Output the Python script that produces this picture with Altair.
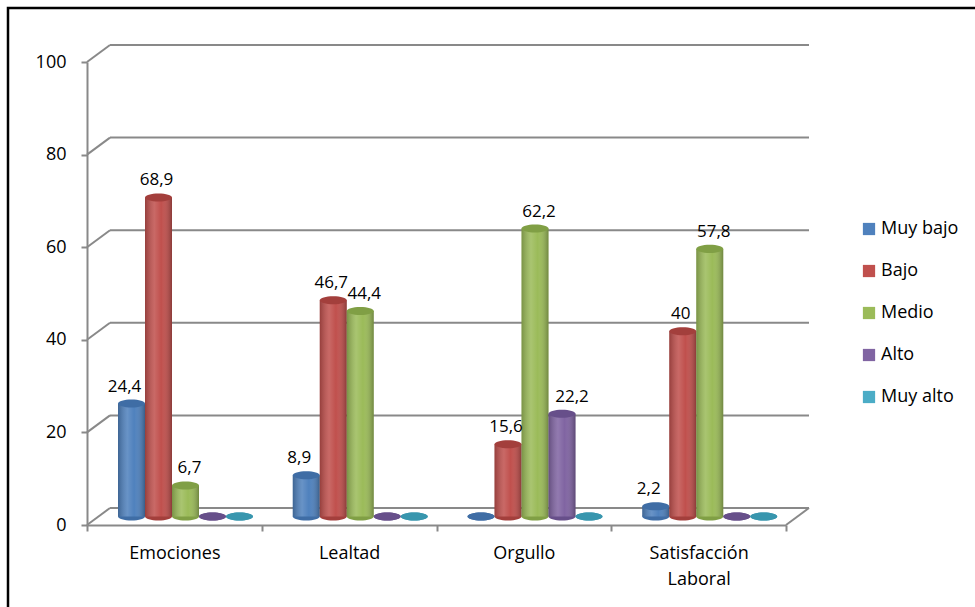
import altair as alt
import pandas as pd

# --- data -------------------------------------------------------------
categories = ["Emociones", "Lealtad", "Orgullo", "Satisfacción Laboral"]
series = ["Muy bajo", "Bajo", "Medio", "Alto", "Muy alto"]
muy_bajo = [24.4, 8.9, 0, 2.2]
bajo = [68.9, 46.7, 15.6, 40]
medio = [6.7, 44.4, 62.2, 57.8]
alto = [0, 0, 22.2, 0]
muy_alto = [0, 0, 0, 0]
y_ticks = [0, 20, 40, 60, 80, 100]

body_colors = ["#4F81BD", "#C0504D", "#9BBB59", "#8064A2", "#4BACC6"]
cap_colors = ["#3F6DA5", "#A33F3C", "#809F45", "#674F8A", "#3896AE"]

values_by_series = [muy_bajo, bajo, medio, alto, muy_alto]
rows = []
for s, vals, cap in zip(series, values_by_series, cap_colors):
    for c, v in zip(categories, vals):
        rows.append({"categoria": c, "nivel": s, "valor": v, "cap": cap})
df = pd.DataFrame(rows)
grid_df = pd.DataFrame({"v": y_ticks})

# --- layout constants (pixels) -------------------------------------------
W, H = 699, 463           # front plane of the plot
DX, DY = 23, -17          # depth of the 3-D box
MX, MY = DX / 2, DY / 2   # bars stand in the middle of the depth
FONT = "Open Sans"
GRAY = "#898989"
# small horizontal nudges of the value labels, per series, so that
# neighbouring labels do not collide
LABEL_DX = {"Muy bajo": -7, "Bajo": -2, "Medio": 4, "Alto": 10, "Muy alto": 0}

x_enc = alt.X(
    "categoria:N",
    sort=categories,
    scale=alt.Scale(domain=categories, paddingInner=0, paddingOuter=0),
    axis=alt.Axis(
        title=None, labelAngle=0, tickBand="extent", tickSize=6, grid=False,
        domainColor=GRAY, domainWidth=2, tickColor=GRAY, tickWidth=2,
        labelFont=FONT, labelFontSize=18, labelColor="black",
        labelPadding=13, labelLineHeight=26,
        labelExpr="split(datum.label, ' ')",
    ),
)
xoff_enc = alt.XOffset(
    "nivel:N",
    sort=series,
    scale=alt.Scale(domain=series, range=[31, 166], paddingInner=0, paddingOuter=0),
)
y_scale = alt.Scale(domain=[0, 100], nice=False, zero=True)
y_axis = alt.Axis(
    title=None, values=y_ticks, grid=False, tickSize=6,
    domainColor=GRAY, domainWidth=2, tickColor=GRAY, tickWidth=2,
    labelFont=FONT, labelFontSize=18, labelColor="black", labelPadding=15,
)
y_val = alt.Y("valor:Q", scale=y_scale, axis=y_axis)
y_grid = alt.Y("v:Q", scale=y_scale, axis=y_axis)

# outer frame
frame = alt.Chart(alt.Data(values=[{}])).mark_rect(
    filled=False, stroke="black", strokeWidth=2.5
).encode(
    x=alt.value(-79), x2=alt.value(W + 200),
    y=alt.value(-54), y2=alt.value(H + 120),
)

# back wall gridlines
back_grid = alt.Chart(grid_df).mark_rule(
    color=GRAY, strokeWidth=2, yOffset=DY, y2Offset=DY
).encode(
    x=alt.value(DX), x2=alt.value(W + DX), y=y_grid, y2="v:Q",
)

# side wall connectors from the axis ticks to the back wall
side_grid = alt.Chart(grid_df).mark_rule(
    color=GRAY, strokeWidth=2, y2Offset=DY
).encode(
    x=alt.value(0), x2=alt.value(DX), y=y_grid, y2="v:Q",
)

# right edge of the floor
floor_edge = alt.Chart(grid_df[grid_df["v"] == 0]).mark_rule(
    color=GRAY, strokeWidth=2, y2Offset=DY
).encode(
    x=alt.value(W), x2=alt.value(W + DX), y=y_grid, y2="v:Q",
)

ellipse = "M-1,0A1,0.3,0,1,0,1,0A1,0.3,0,1,0,-1,0Z"

# cylinder bottoms
bottoms = alt.Chart(df).mark_point(
    shape=ellipse, filled=True, size=729, opacity=1, strokeWidth=0, yOffset=MY
).encode(
    x=x_enc, xOffset=xoff_enc,
    y=alt.Y("base:Q", scale=y_scale, axis=y_axis),
    fill=alt.Fill("cap:N", scale=None, legend=None),
).transform_calculate(base="0")

# cylinder bodies
bodies = alt.Chart(df).mark_bar(yOffset=MY, y2Offset=MY).encode(
    x=x_enc, xOffset=xoff_enc, y=y_val,
    color=alt.Color(
        "nivel:N", sort=series,
        scale=alt.Scale(domain=series, range=body_colors),
        legend=alt.Legend(
            title=None, orient="none", legendX=773, legendY=158,
            symbolType="square", symbolSize=150, symbolStrokeWidth=0,
            labelFont=FONT, labelFontSize=18, labelColor="black",
            labelOffset=3, rowPadding=24,
        ),
    ),
)

# round shading across each cylinder
shade = alt.Gradient(
    gradient="linear", x1=0, x2=1, y1=0, y2=0,
    stops=[
        alt.GradientStop(offset=0, color="rgba(0,0,0,0.22)"),
        alt.GradientStop(offset=0.35, color="rgba(255,255,255,0.14)"),
        alt.GradientStop(offset=0.6, color="rgba(255,255,255,0.0)"),
        alt.GradientStop(offset=1, color="rgba(0,0,0,0.28)"),
    ],
)
shading = alt.Chart(df).mark_bar(yOffset=MY, y2Offset=MY, fill=shade).encode(
    x=x_enc, xOffset=xoff_enc, y=y_val,
)

# cylinder tops
tops = alt.Chart(df).mark_point(
    shape=ellipse, filled=True, size=729, opacity=1, strokeWidth=0, yOffset=MY
).encode(
    x=x_enc, xOffset=xoff_enc, y=y_val,
    fill=alt.Fill("cap:N", scale=None, legend=None),
)

# value labels (one layer per series, each with its own nudge)
label_layers = []
for s in series:
    label_layers.append(
        alt.Chart(df).transform_filter(
            alt.datum.nivel == s
        ).transform_filter(
            "datum.valor > 0"
        ).transform_calculate(
            etiqueta="replace(format(datum.valor, '.1~f'), '.', ',')"
        ).mark_text(
            font=FONT, fontSize=17, color="black", baseline="middle",
            yOffset=MY - 17, dx=LABEL_DX[s],
        ).encode(
            x=x_enc, xOffset=xoff_enc, y=y_val, text="etiqueta:N",
        )
    )

chart = alt.layer(
    frame, back_grid, side_grid, floor_edge, bottoms, bodies, shading, tops,
    *label_layers,
).properties(
    width=W, height=H,
    view=alt.ViewBackground(stroke="transparent", strokeWidth=0),
    autosize=alt.AutoSizeParams(type="none"),
    padding={"left": 87, "top": 62, "right": 975 - 87 - W, "bottom": 607 - 62 - H},
).configure_view(stroke="transparent", strokeWidth=0).configure(background="white")

chart.save("out.html", embed_options={"renderer": "svg", "actions": False})
